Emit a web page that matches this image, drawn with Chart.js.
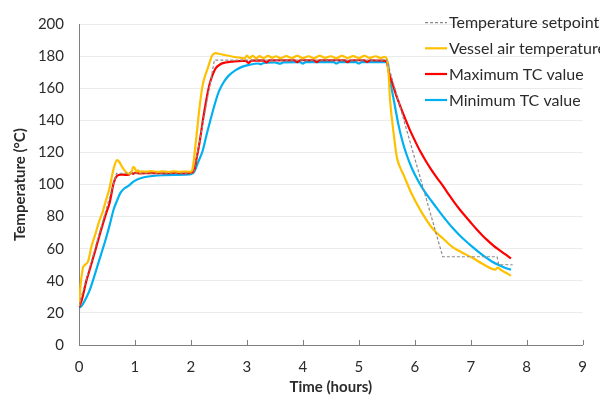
<!DOCTYPE html>
<html>
<head>
<meta charset="utf-8">
<script src="https://cdn.jsdelivr.net/npm/chart.js@4.4.1/dist/chart.umd.min.js"></script>
<style>
  body { margin: 0; background: #fff; }
  #chart { display: block; }
</style>
</head>
<body>
<canvas id="chart" width="600" height="396"></canvas>
<script>
// [time (h), temperature (°C)]
let setpoint = [
    [0, 25], [0.67, 107], [2.05, 107], [2.42, 177.5], [5.5, 177.5],
    [6.5, 55], [7.47, 55], [7.5, 50], [7.75, 50]
];

let vesselAir = [
    [0, 24.5], [0.03, 38], [0.07, 48], [0.11, 50], [0.16, 52], [0.19, 56], [0.22, 61],
    [0.3, 70], [0.36, 77], [0.42, 82.6], [0.48, 90], [0.54, 97], [0.62, 110], [0.68, 115.2],
    [0.72, 114], [0.77, 111], [0.82, 108.5], [0.86, 107], [0.91, 106.8], [0.94, 108],
    [0.97, 111], [1.0, 110], [1.03, 108], [1.06, 108.8], [1.09, 107.6], [1.12, 108.2],
    [1.2, 108], [1.3, 108.3], [1.4, 107.9], [1.5, 108.2], [1.6, 107.8], [1.7, 108.2],
    [1.8, 107.9], [1.9, 108.1], [2.0, 108], [2.04, 112], [2.08, 124], [2.12, 137],
    [2.15, 147], [2.21, 162], [2.3, 172.3], [2.38, 180.4], [2.44, 181.8], [2.52, 181.3],
    [2.62, 180.5], [2.75, 179.6], [2.91, 178.8], [2.96, 178.6], [3.0, 180.3], [3.05, 178.7],
    [3.1, 180.1], [3.17, 178.6], [3.22, 180], [3.3, 178.8], [3.38, 180.2], [3.45, 179],
    [3.52, 179.9], [3.6, 178.7], [3.7, 180], [3.8, 178.8], [3.9, 180.1], [4.0, 178.8],
    [4.1, 179.9], [4.2, 178.7], [4.3, 180.2], [4.4, 178.9], [4.5, 179.9], [4.6, 178.7],
    [4.7, 180.2], [4.8, 178.8], [4.9, 180], [5.0, 178.8], [5.1, 180.1], [5.2, 178.9],
    [5.3, 179.9], [5.4, 178.8], [5.46, 179.6], [5.5, 178.4], [5.53, 170], [5.56, 152],
    [5.62, 132.5], [5.68, 117], [5.74, 110.5], [5.8, 106], [5.94, 94.5], [6.1, 84],
    [6.32, 72.4], [6.5, 66.5], [6.67, 61.2], [6.85, 57.5], [7.02, 54.5], [7.2, 50.8],
    [7.37, 47.6], [7.44, 47], [7.48, 48.3], [7.55, 46.5], [7.62, 45.2], [7.72, 43.2]
];

let maxTC = [
    [0, 23.5], [0.05, 28], [0.13, 39.8], [0.2, 48], [0.3, 60], [0.38, 70], [0.48, 81.5],
    [0.55, 89], [0.62, 101], [0.68, 105.4], [0.75, 106.2], [0.83, 106], [0.9, 106.3],
    [0.93, 107.5], [0.97, 106.6], [1.0, 107.3], [1.1, 106.9], [1.3, 107.1], [1.5, 107],
    [1.7, 107.2], [1.9, 107], [2.0, 107.2], [2.06, 109], [2.1, 116], [2.15, 125.4],
    [2.24, 145.7], [2.33, 162], [2.44, 172.3], [2.52, 174.8], [2.62, 176], [2.75, 176.6],
    [2.91, 177], [2.98, 177], [3.03, 175.8], [3.08, 177.2], [3.3, 177.3], [3.35, 176],
    [3.4, 177.3], [3.85, 177.4], [3.9, 176.2], [3.95, 177.4], [4.2, 177.4], [4.25, 176.3],
    [4.3, 177.4], [4.75, 177.4], [4.8, 176.3], [4.85, 177.4], [5.1, 177.4], [5.15, 176.4],
    [5.2, 177.4], [5.45, 177.2], [5.5, 176.5], [5.53, 171], [5.6, 163], [5.7, 152.5],
    [5.8, 143.5], [5.9, 135], [6.0, 127.5], [6.1, 120.5], [6.2, 114.5], [6.3, 109],
    [6.4, 104], [6.5, 99.3], [6.6, 94.2], [6.7, 89.2], [6.8, 84.6], [6.9, 80.4],
    [7.0, 76.3], [7.1, 72.3], [7.2, 68.6], [7.3, 65.2], [7.4, 62.1], [7.5, 59.4],
    [7.6, 56.9], [7.72, 54]
];

let minTC = [
    [0, 23], [0.05, 24.5], [0.13, 29.5], [0.2, 35], [0.3, 45.9], [0.39, 56], [0.48, 66.2],
    [0.55, 75], [0.62, 84.6], [0.68, 90], [0.74, 94.8], [0.82, 97.8], [0.89, 99.3],
    [0.96, 101.5], [1.03, 103], [1.13, 104.2], [1.24, 105], [1.4, 105.6], [1.53, 105.8],
    [1.7, 106], [1.9, 106.2], [2.0, 106.4], [2.06, 108], [2.13, 114], [2.21, 121],
    [2.28, 131], [2.36, 141.7], [2.43, 150.5], [2.5, 158], [2.59, 164], [2.68, 168],
    [2.8, 171.3], [2.91, 173.3], [3.05, 174.6], [3.2, 175.4], [3.25, 174.9], [3.3, 175.7],
    [3.5, 176], [3.6, 175.3], [3.65, 176.1], [3.95, 176.2], [4.0, 175.3], [4.05, 176.2],
    [4.55, 176.3], [4.6, 175.4], [4.65, 176.3], [4.95, 176.3], [5.0, 175.4], [5.05, 176.3],
    [5.48, 176.2], [5.52, 176], [5.55, 166], [5.59, 159], [5.65, 148], [5.71, 137],
    [5.78, 127], [5.85, 119], [5.95, 110], [6.05, 103], [6.15, 97], [6.25, 92],
    [6.35, 87.4], [6.45, 82.6], [6.55, 78.2], [6.67, 73.2], [6.8, 68.4], [6.9, 65.1],
    [7.02, 61.4], [7.15, 57.7], [7.25, 55], [7.37, 52.2], [7.5, 49.8], [7.6, 48.3],
    [7.72, 46.9]
];

let seriesLabels = ['Temperature setpoint', 'Vessel air temperature', 'Maximum TC value', 'Minimum TC value'];
let xTicks = [0, 1, 2, 3, 4, 5, 6, 7, 8, 9];

let axisColor = '#7f7f7f';
let textColor = '#2b2b2b';

function toPoints(arr) {
    return arr.map(function (p) { return { x: p[0], y: p[1] }; });
}

// legend in the top right corner, runs off the canvas like the original
let cornerLegend = {
    id: 'cornerLegend',
    afterDraw: function (chart) {
        let c = chart.ctx;
        let rows = [22.7, 48.3, 74, 100];
        c.save();
        chart.data.datasets.forEach(function (ds, i) {
            let y = rows[i];
            c.beginPath();
            c.strokeStyle = ds.borderColor;
            c.lineWidth = ds.borderWidth;
            c.setLineDash(ds.borderDash || []);
            c.moveTo(425, y);
            c.lineTo(447, y);
            c.stroke();
            c.setLineDash([]);
            c.fillStyle = textColor;
            c.font = '16px Lato';
            c.textBaseline = 'middle';
            c.textAlign = 'left';
            c.fillText(ds.label, 449, y + 0.5);
        });
        c.restore();
    }
};

// small tick marks pointing up into the plot on the x axis
let innerTicks = {
    id: 'innerTicks',
    afterDraw: function (chart) {
        let c = chart.ctx;
        let xs = chart.scales.x;
        let bottom = chart.chartArea.bottom;
        c.save();
        c.strokeStyle = axisColor;
        c.lineWidth = 1;
        xTicks.forEach(function (v) {
            let px = Math.round(xs.getPixelForValue(v)) + 0.5;
            c.beginPath();
            c.moveTo(px, bottom - 5);
            c.lineTo(px, bottom);
            c.stroke();
        });
        c.restore();
    }
};

let myChart = new Chart(document.getElementById('chart'), {
    type: 'line',
    data: {
        datasets: [
            {
                label: seriesLabels[0],
                data: toPoints(setpoint),
                borderColor: '#8a8a8a',
                borderWidth: 1.2,
                borderDash: [3, 2],
                tension: 0
            },
            {
                label: seriesLabels[1],
                data: toPoints(vesselAir),
                borderColor: '#ffc000',
                borderWidth: 2.2,
                cubicInterpolationMode: 'monotone'
            },
            {
                label: seriesLabels[2],
                data: toPoints(maxTC),
                borderColor: '#ff0000',
                borderWidth: 2.2,
                cubicInterpolationMode: 'monotone'
            },
            {
                label: seriesLabels[3],
                data: toPoints(minTC),
                borderColor: '#00b0f0',
                borderWidth: 2.2,
                cubicInterpolationMode: 'monotone'
            }
        ]
    },
    options: {
        responsive: false,
        animation: false,
        layout: { padding: { top: 18, right: 7, left: 0, bottom: 0 } },
        elements: { point: { radius: 0 } },
        plugins: {
            legend: { display: false },
            tooltip: { enabled: false }
        },
        scales: {
            x: {
                type: 'linear',
                min: 0,
                max: 9,
                afterBuildTicks: function (scale) {
                    scale.ticks = xTicks.map(function (v) { return { value: v }; });
                },
                ticks: {
                    color: textColor,
                    font: { family: 'Lato', size: 15 },
                    padding: 13,
                    maxRotation: 0
                },
                grid: { display: false, drawTicks: false },
                border: { color: axisColor, width: 1 },
                title: {
                    display: true,
                    text: 'Time (hours)',
                    color: textColor,
                    font: { family: 'Lato', size: 15, weight: 'bold' },
                    padding: { top: 0, bottom: 0 }
                },
                afterFit: function (scale) { scale.height = 51; }
            },
            y: {
                min: 0,
                max: 200,
                ticks: {
                    stepSize: 20,
                    color: textColor,
                    font: { family: 'Lato', size: 15 },
                    padding: 15
                },
                grid: { color: '#ebebeb', drawTicks: false },
                border: { color: axisColor, width: 1 },
                title: {
                    display: true,
                    text: 'Temperature (°C)',
                    color: textColor,
                    font: { family: 'Lato', size: 15, weight: 'bold' },
                    padding: { top: 11, bottom: 0 }
                },
                afterFit: function (scale) { scale.width = 79; }
            }
        }
    },
    plugins: [cornerLegend, innerTicks]
});
</script>
</body>
</html>
